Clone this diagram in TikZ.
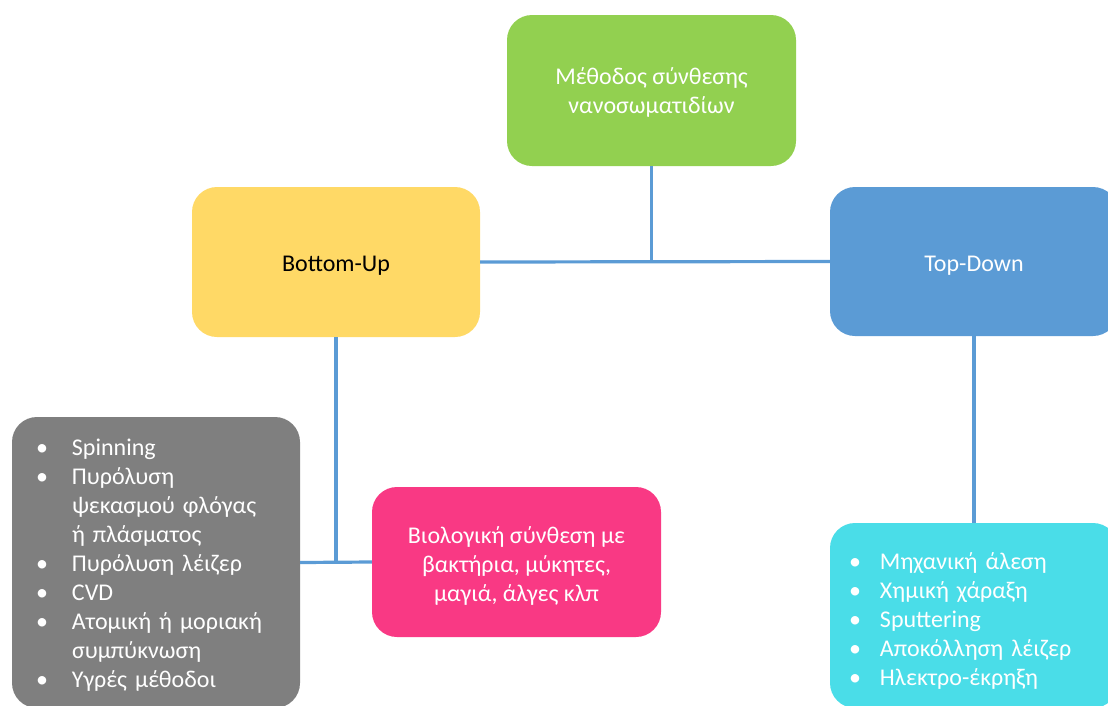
\documentclass[tikz,border=0pt]{standalone}
\usepackage{fontspec}
\setmainfont{Carlito}
\definecolor{cgreen}{HTML}{92D050}
\definecolor{cyellow}{HTML}{FFD966}
\definecolor{cblue}{HTML}{5B9BD5}
\definecolor{cgray}{HTML}{7F7F7F}
\definecolor{cpink}{HTML}{F93984}
\definecolor{ccyan}{HTML}{4ADDE8}
\newcommand{\lowertext}[2]{\raisebox{-#1}[\height][\depth]{#2}}
\begin{document}
\begin{tikzpicture}[x=1pt,y=-1pt,
  box/.style={rounded corners=25pt, minimum width=288pt, minimum height=150pt,
    inner sep=0pt, align=center, text=white, font=\fontsize{24}{29}\selectfont},
  conn/.style={draw=cblue, line width=3.2pt}]
\useasboundingbox (0,0) rectangle (1108,705);
\clip (0,0) rectangle (1108,705);
\node[box, fill=cgreen, minimum width=289pt, minimum height=151pt] (meth) at (651.5,90.5)
  {\lowertext{3pt}{\begin{tabular}{@{}c@{}}Μέθοδος σύνθεσης\\νανοσωματιδίων\end{tabular}}};
\node[box, fill=cyellow, text=black] (bu) at (336,262) {\lowertext{4pt}{Bottom-Up}};
\node[box, fill=cblue, minimum height=149pt] (td) at (974,261.5) {\lowertext{4pt}{Top-Down}};
\node[box, fill=cpink, minimum width=289pt] (bio) at (516.5,562)
  {\lowertext{5pt}{\begin{tabular}{@{}c@{}}Βιολογική σύνθεση με\\βακτήρια, μύκητες,\\μαγιά, άλγες κλπ\end{tabular}}};
\node[box, fill=cgray, minimum height=291pt, text width=240pt, align=left] (bu list) at (156,562.5)
  {\lowertext{3pt}{\begin{tabular}{@{}p{36pt}@{}l@{}}
   • & Spinning\\
   • & Πυρόλυση\\
     & ψεκασμού φλόγας\\
     & ή πλάσματος\\
   • & Πυρόλυση λέιζερ\\
   • & CVD\\
   • & Ατομική ή μοριακή\\
     & συμπύκνωση\\
   • & Υγρές μέθοδοι
   \end{tabular}}};
\node[box, fill=ccyan, minimum height=185pt, text width=250pt, align=left] (td list) at (974,615.5)
  {\lowertext{6pt}{\begin{tabular}{@{}p{31pt}@{}l@{}}
   • & Μηχανική άλεση\\
   • & Χημική χάραξη\\
   • & Sputtering\\
   • & Αποκόλληση λέιζερ\\
   • & Ηλεκτρο-έκρηξη
   \end{tabular}}};
\coordinate (j1) at (meth.south |- bu.east);
\coordinate (j2) at (bu.south |- bio.west);
\draw[conn] (bu.east) -- (td.west);
\draw[conn] (meth.south) -- (j1);
\draw[conn] (td.south) -- (td list.north);
\draw[conn] (bu.south) -- (j2);
\draw[conn] (bu list.east) -- (bio.west);
\end{tikzpicture}
\end{document}
